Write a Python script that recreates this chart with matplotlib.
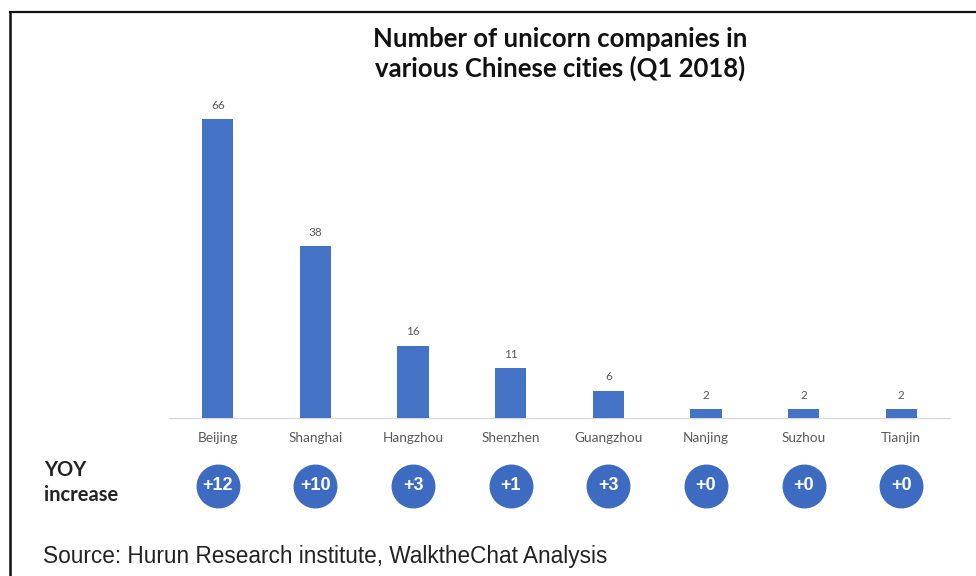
import matplotlib
matplotlib.use("Agg")
import matplotlib.pyplot as plt
from matplotlib.transforms import blended_transform_factory
from matplotlib.lines import Line2D

cities = ["Beijing", "Shanghai", "Hangzhou", "Shenzhen", "Guangzhou", "Nanjing", "Suzhou", "Tianjin"]
unicorns = [66, 38, 16, 11, 6, 2, 2, 2]
yoy = ["+12", "+10", "+3", "+1", "+3", "+0", "+0", "+0"]

W, H = 976, 576
fig = plt.figure(figsize=(W / 100, H / 100), dpi=100)
fig.patch.set_facecolor("white")

# axes: x from 169px to 950px, baseline at 418px, 4.53 px per unit
left = 169 / W
right = 950 / W
bottom = (H - 418) / H
ymax = 70
height = ymax * 4.53 / H
ax = fig.add_axes([left, bottom, right - left, height])

x = list(range(len(cities)))
bars = ax.bar(x, unicorns, width=0.32, color="#4472C4", zorder=3)
ax.set_xlim(-0.5, len(cities) - 0.5)
ax.set_ylim(0, ymax)
for s in ["top", "right", "left"]:
    ax.spines[s].set_visible(False)
ax.spines["bottom"].set_color("#d9d9d9")
ax.spines["bottom"].set_linewidth(1.0)
ax.set_yticks([])
ax.set_xticks(x)
ax.set_xticklabels(cities, fontsize=9.8, color="#595959", family="Lato")
ax.tick_params(axis="x", length=0, pad=10)

for xi, v in zip(x, unicorns):
    ax.annotate(str(v), (xi, v), xytext=(0, 6), textcoords="offset points",
                ha="center", va="bottom", fontsize=8.5, color="#595959", family="Lato")

# YOY circles
tr = blended_transform_factory(ax.transData, fig.transFigure)
cy = (H - 486) / H
ax.scatter(x, [cy] * len(x), s=1000, color="#3D6BC2", transform=tr, clip_on=False, zorder=5,
           linewidths=0)
for xi, t in zip(x, yoy):
    ax.text(xi, cy, t, transform=tr, ha="center", va="center", color="white",
            fontsize=13, fontweight="bold", family="Liberation Sans", zorder=6)

fig.text(44 / W, (H - 470) / H, "YOY", fontsize=14.5, fontweight="bold", family="Lato",
         color="#222222", ha="left", va="center")
fig.text(44 / W, (H - 495) / H, "increase", fontsize=14.5, fontweight="bold", family="Lato",
         color="#222222", ha="left", va="center")

fig.text(560 / W, (H - 54) / H, "Number of unicorn companies in\nvarious Chinese cities (Q1 2018)",
         fontsize=18.5, fontweight="bold", family="Lato", color="#111111",
         ha="center", va="center", linespacing=1.2)

fig.text(43 / W, (H - 557) / H, "Source: Hurun Research institute, WalktheChat Analysis",
         fontsize=16.3, family="Liberation Sans", color="#222222", ha="left", va="center")

# border lines (top and left)
fig.add_artist(Line2D([10 / W, 1.0], [(H - 12) / H, (H - 12) / H], transform=fig.transFigure,
                      color="#111111", linewidth=1.6))
fig.add_artist(Line2D([10 / W, 10 / W], [0, (H - 12) / H], transform=fig.transFigure,
                      color="#111111", linewidth=1.8))

fig.savefig("out.png", dpi=100, facecolor="white")
